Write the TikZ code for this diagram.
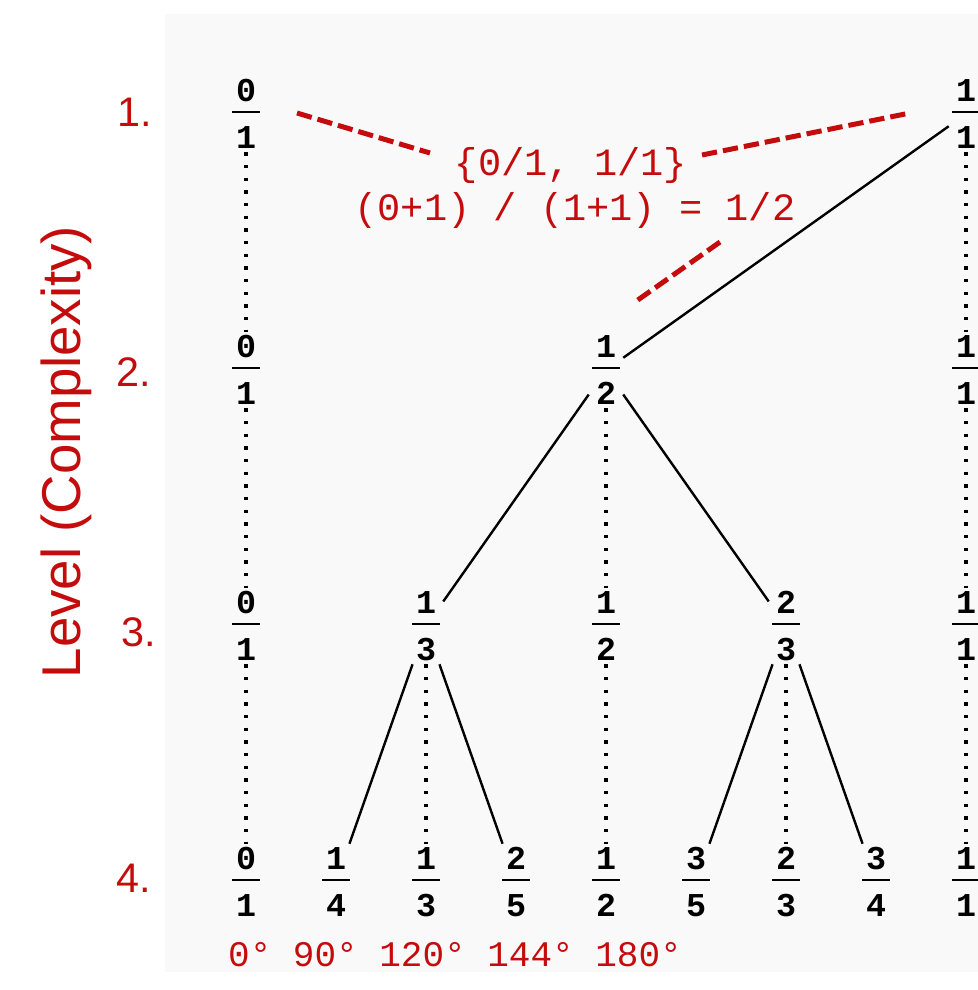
\documentclass[tikz,border=0pt]{standalone}
\usepackage{fontspec}
\setmainfont{Liberation Sans}
\setmonofont{Liberation Mono}
\usetikzlibrary{calc}
\definecolor{darkred}{RGB}{196,12,12}
\definecolor{panelgray}{RGB}{249,249,249}
\newcommand{\fr}[2]{\vbox{\offinterlineskip\halign{\hfil##\hfil\cr
  #1\cr\noalign{\kern7pt}\vrule width21pt height1.5pt depth0pt\cr
  \noalign{\kern10pt}#2\cr}}}
\begin{document}
\begin{tikzpicture}[x=0.75pt, y=-0.75pt,
    frac/.style={font=\ttfamily\bfseries\fontsize{25}{30}\selectfont,
      minimum width=25.5pt, minimum height=57pt, inner sep=0pt},
    edge/.style={line width=1.8pt},
    same/.style={line width=2.6pt, dash pattern=on 2.6pt off 6.9pt},
    hint/.style={draw=darkred, line width=3.75pt, dash pattern=on 11.5pt off 4.5pt},
    note/.style={font=\ttfamily\fontsize{29}{34}\selectfont, text=darkred, inner sep=0pt},
    lvl/.style={font=\fontsize{31}{36}\selectfont, text=darkred, inner sep=0pt},
  ]
  \path[use as bounding box, clip] (0,0) rectangle (978,990);
  \fill[panelgray] (165,14) rectangle (990,972);

  % levels
  \node[font=\fontsize{41}{48}\selectfont, text=darkred, rotate=90, inner sep=0pt] (axis) at (66,452) {Level (Complexity)};
  \foreach \n/\x/\y in {1/135/112, 2/134/372, 3/139/632, 4/134/878}
    \node[lvl] (lv\n) at (\x,\y) {\n.};

  % level 1
  \node[frac] (l1-01) at (246,114) {\fr{0}{1}};
  \node[frac] (l1-11) at (966,114) {\fr{1}{1}};
  % level 2
  \node[frac] (l2-01) at (246,370) {\fr{0}{1}};
  \node[frac] (l2-12) at (606,370) {\fr{1}{2}};
  \node[frac] (l2-11) at (966,370) {\fr{1}{1}};
  % level 3
  \node[frac] (l3-01) at (246,626) {\fr{0}{1}};
  \node[frac] (l3-13) at (426,626) {\fr{1}{3}};
  \node[frac] (l3-12) at (606,626) {\fr{1}{2}};
  \node[frac] (l3-23) at (786,626) {\fr{2}{3}};
  \node[frac] (l3-11) at (966,626) {\fr{1}{1}};
  % level 4
  \node[frac] (l4-01) at (246,882) {\fr{0}{1}};
  \node[frac] (l4-14) at (336,882) {\fr{1}{4}};
  \node[frac] (l4-13) at (426,882) {\fr{1}{3}};
  \node[frac] (l4-25) at (516,882) {\fr{2}{5}};
  \node[frac] (l4-12) at (606,882) {\fr{1}{2}};
  \node[frac] (l4-35) at (696,882) {\fr{3}{5}};
  \node[frac] (l4-23) at (786,882) {\fr{2}{3}};
  \node[frac] (l4-34) at (876,882) {\fr{3}{4}};
  \node[frac] (l4-11) at (966,882) {\fr{1}{1}};

  % mediants
  \draw[edge] (l1-11) -- (l2-12);
  \draw[edge] (l2-12) -- (l3-13);
  \draw[edge] (l2-12) -- (l3-23);
  \draw[edge] (l3-13) -- (l4-14);
  \draw[edge] (l3-13) -- (l4-25);
  \draw[edge] (l3-23) -- (l4-35);
  \draw[edge] (l3-23) -- (l4-34);

  % carried over
  \draw[same] (l1-01.south) -- (l2-01.north) (l2-01.south) -- (l3-01.north) (l3-01.south) -- (l4-01.north);
  \draw[same] (l1-11.south) -- (l2-11.north) (l2-11.south) -- (l3-11.north) (l3-11.south) -- (l4-11.north);
  \draw[same] (l2-12.south) -- (l3-12.north) (l3-12.south) -- (l4-12.north);
  \draw[same] (l3-13.south) -- (l4-13.north);
  \draw[same] (l3-23.south) -- (l4-23.north);

  % worked step
  \node[note] (set) at (571,165) {\{0/1, 1/1\}};
  \node[note] (mediant) at (575,210) {(0+1) / (1+1) = 1/2};
  \draw[hint] ([shift={(51,-1)}]l1-01.center) -- ([shift={(-141,-12)}]set.center);
  \draw[hint] ([shift={(131,-10)}]set.center) -- ([shift={(-56,-1)}]l1-11.center);
  \draw[hint] ([shift={(145,32)}]mediant.center) -- ([shift={(29,-68)}]l2-12.center);

  \node[note, font=\ttfamily\fontsize{27}{32}\selectfont] (angles) at (455,955) {0° 90° 120° 144° 180°};
\end{tikzpicture}
\end{document}
